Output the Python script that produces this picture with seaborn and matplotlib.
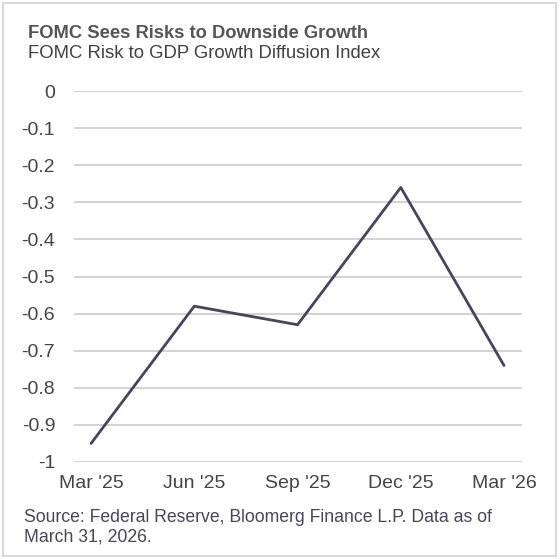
import pandas as pd
from matplotlib import pyplot as plt
from matplotlib.patches import Rectangle
import seaborn as sns

# data
quarters = ["Mar '25", "Jun '25", "Sep '25", "Dec '25", "Mar '26"]
diffusion_index = [-0.95, -0.58, -0.63, -0.26, -0.74]
y_ticks = [0, -0.1, -0.2, -0.3, -0.4, -0.5, -0.6, -0.7, -0.8, -0.9, -1]
y_labels = ["0", "-0.1", "-0.2", "-0.3", "-0.4", "-0.5", "-0.6", "-0.7", "-0.8", "-0.9", "-1"]

title = "FOMC Sees Risks to Downside Growth"
subtitle = "FOMC Risk to GDP Growth Diffusion Index"
source_lines = ["Source: Federal Reserve, Bloomerg Finance L.P. Data as of",
                "March 31, 2026."]

W, H = 560, 559
df = pd.DataFrame({"pos": range(len(quarters)), "value": diffusion_index})

sns.set_style("white")
plt.rcParams['font.family'] = ['Liberation Sans', 'DejaVu Sans']

fig = plt.figure(figsize=(W / 100, H / 100), dpi=100)
# axes box in pixels: left 74, right 522, top 91, bottom 462
ax = fig.add_axes([74 / W, 1 - 462 / H, (522 - 74) / W, (462 - 91) / H])

sns.lineplot(data=df, x="pos", y="value", color="#48455a", linewidth=2.0, ax=ax, clip_on=False)

ax.set_xlim(-0.165, 4.174)
ax.set_ylim(-1, 0)
ax.set_xticks(range(len(quarters)))
ax.set_xticklabels(quarters)
ax.set_yticks(y_ticks)
ax.set_yticklabels(y_labels)
ax.tick_params(axis="both", length=0, labelsize=14, labelcolor="#444444")
ax.tick_params(axis="y", pad=13.5)
ax.tick_params(axis="x", pad=9)
ax.grid(axis="y", color="#d4d4d4", linewidth=1.5)
ax.set_axisbelow(True)
ax.set_xlabel("")
ax.set_ylabel("")
sns.despine(ax=ax, left=True, bottom=True)

fig.text(28 / W, 1 - 38 / H, title, fontsize=13.2, fontweight="bold",
         color="#555555", va="baseline")
fig.text(28 / W, 1 - 58 / H, subtitle, fontsize=13.3, color="#404040", va="baseline")
for line, base in zip(source_lines, [522, 541]):
    fig.text(24 / W, 1 - base / H, line, fontsize=12.7, color="#48455a", va="baseline")

fig.patches.append(Rectangle((3 / W, 1 - 556 / H), 553 / W, 553 / H,
                             transform=fig.transFigure, fill=False,
                             edgecolor="#d9d9d9", linewidth=1.5))

fig.savefig("out.png", dpi=100)
